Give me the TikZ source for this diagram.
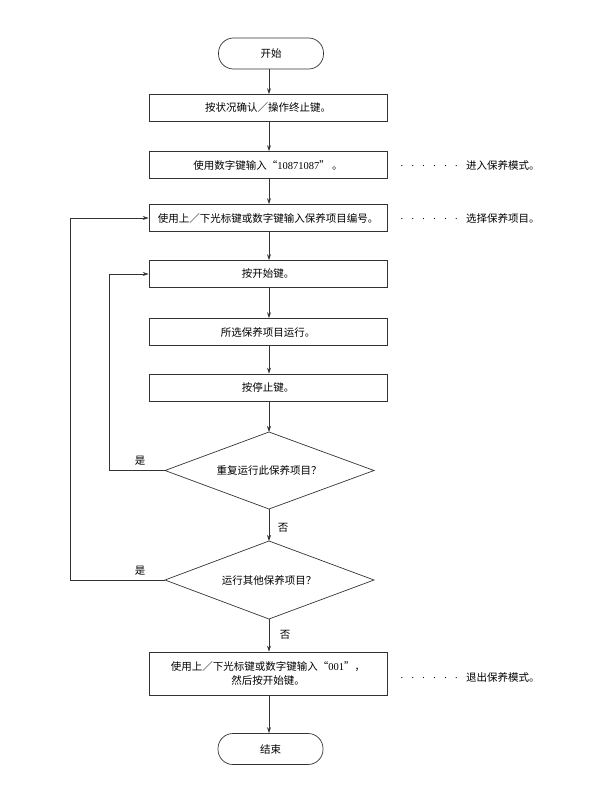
\documentclass[tikz,border=0pt]{standalone}
\usepackage{fontspec}
\setmainfont{Noto Sans CJK SC}
\newfontfamily\dotfont{Liberation Serif}
\newfontfamily\numfont{Liberation Serif}
\usetikzlibrary{arrows.meta}
\newcommand{\mydots}{{\dotfont ·\hspace{7.4pt}·\hspace{7.4pt}·\hspace{7.4pt}·\hspace{7.4pt}·\hspace{7.4pt}·}\hspace{8pt}}
\begin{document}
\begin{tikzpicture}[x=1pt,y=-1pt,
  font=\fontsize{10.5}{14}\selectfont,
  line/.style={draw=black!80, line width=0.7pt},
  arr/.style={line, -{Stealth[length=6pt,width=4pt]}},
  stepbox/.style={line, rectangle, minimum width=238pt, minimum height=27pt, inner sep=0pt, align=center},
  term/.style={line, rectangle, rounded corners=15pt, minimum width=105pt, minimum height=31pt, inner sep=0pt},
  dtext/.style={inner sep=0pt},
  note/.style={anchor=west, inner sep=0pt},
  lbl/.style={inner sep=0pt}]
\useasboundingbox (0,0) rectangle (594,795);
\node[term] (start) at (271,53.5) {开始};
\node[stepbox] (b1) at (268,108) {按状况确认／操作终止键。};
\node[stepbox] (b2) at (268,165) {使用数字键输入“{\numfont 10871087}” 。};
\node[stepbox] (b3) at (268,218) {使用上／下光标键或数字键输入保养项目编号。};
\node[stepbox] (b4) at (268,274) {按开始键。};
\node[stepbox] (b5) at (268,332) {所选保养项目运行。};
\node[stepbox] (b6) at (268,387.5) {按停止键。};

% decision 1
\coordinate (d1t) at (269,432);
\coordinate (d1r) at (374,470.5);
\coordinate (d1b) at (269,509);
\coordinate (d1l) at (165,470.5);
\draw[line] (d1t) -- (d1r) -- (d1b) -- (d1l) -- cycle;
\node[dtext] (d1) at (269,470.5) {重复运行此保养项目？};
% decision 2
\coordinate (d2t) at (269,541);
\coordinate (d2r) at (374,580);
\coordinate (d2b) at (269,619);
\coordinate (d2l) at (165,580);
\draw[line] (d2t) -- (d2r) -- (d2b) -- (d2l) -- cycle;
\node[dtext] (d2) at (269,580) {运行其他保养项目？};

\node[stepbox, minimum height=43pt] (b7) at (268,673.5) {使用上／下光标键或数字键输入“{\numfont 001}”，\\然后按开始键。};
\node[term] (end) at (270.5,749) {结束};

\node[note] (n1) at (400,165) {\mydots 进入保养模式。};
\node[note] (n2) at (400,218) {\mydots 选择保养项目。};
\node[note] (n3) at (400,677) {\mydots 退出保养模式。};

\draw[arr] (start.south -| d1t) -- (b1.north -| d1t);
\draw[arr] (b1.south -| d1t) -- (b2.north -| d1t);
\draw[arr] (b2.south -| d1t) -- (b3.north -| d1t);
\draw[arr] (b3.south -| d1t) -- (b4.north -| d1t);
\draw[arr] (b4.south -| d1t) -- (b5.north -| d1t);
\draw[arr] (b5.south -| d1t) -- (b6.north -| d1t);
\draw[arr] (b6.south -| d1t) -- (d1t);
\draw[arr] (d1b) -- (d2t);
\draw[arr] (d2b) -- (b7.north -| d2b);
\draw[arr] (b7.south -| d2b) -- (end.north -| d2b);

\coordinate (c1) at (109,470.5);
\coordinate (c2) at (70,580);
\draw[arr] (d1l) -- (c1) |- (b4.west);
\draw[arr] (d2l) -- (c2) |- (b3.west);

\node[lbl] (y1) at (140,461) {是};
\node[lbl] (y2) at (140,571) {是};
\node[lbl] (no1) at (283,528) {否};
\node[lbl] (no2) at (285,635) {否};
\end{tikzpicture}
\end{document}
